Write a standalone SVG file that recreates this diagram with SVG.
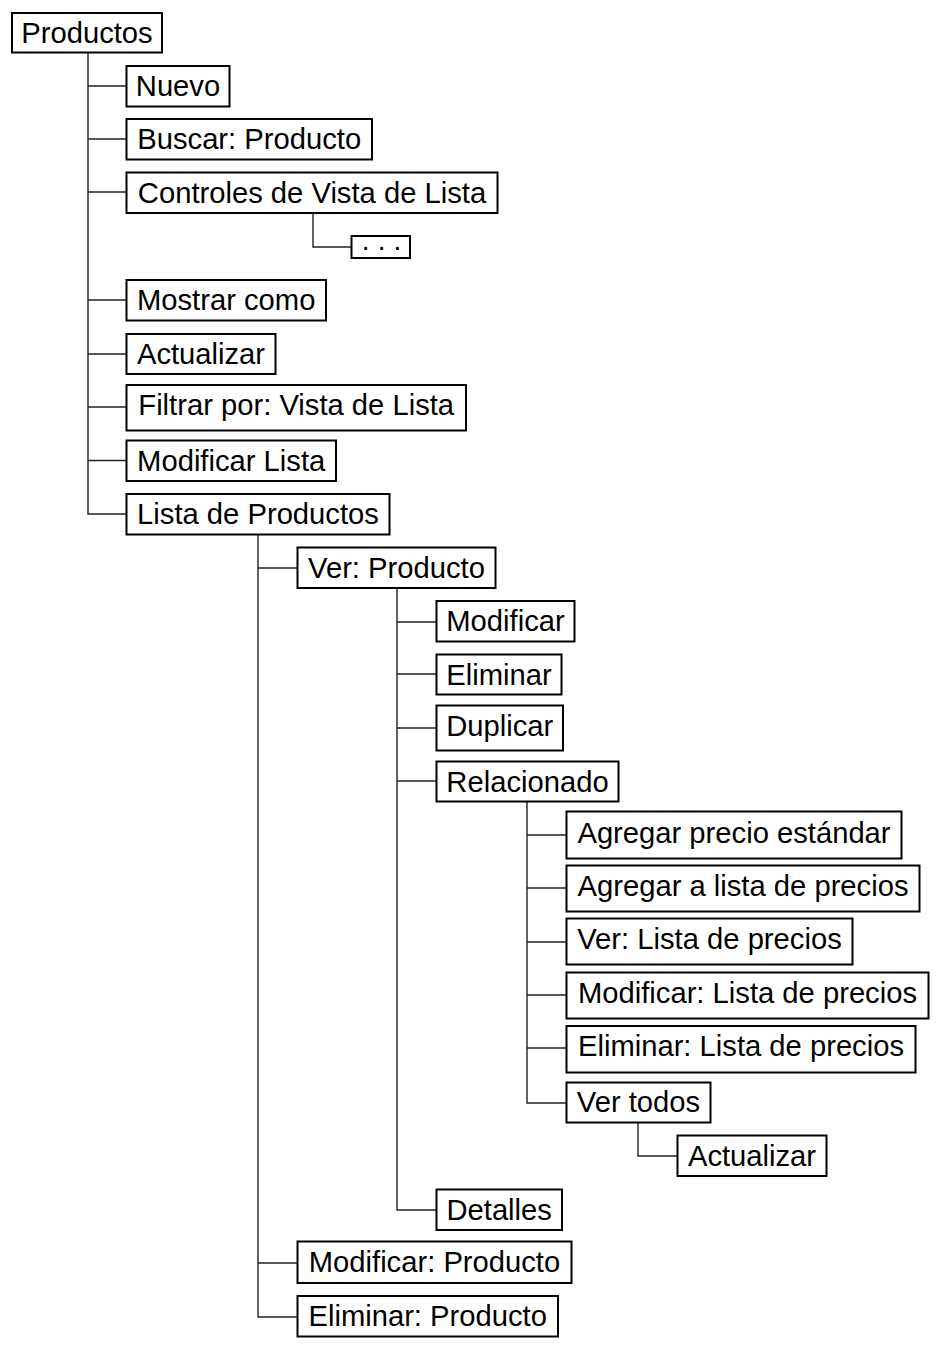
<svg xmlns="http://www.w3.org/2000/svg" width="943" height="1352" viewBox="0 0 943 1352">
<style>
.box{fill:#fff;stroke:#000;stroke-width:2}
.lbl{font-family:"Liberation Sans",Arial,Helvetica,sans-serif;font-size:29.2px;fill:#000;text-anchor:middle}
.con{fill:none;stroke:#222;stroke-width:1.4}
</style>
<rect x="0" y="0" width="943" height="1352" fill="#fff"/>
<g id="connectors">
<path class="con" d="M88,52 V514 H126 M88,86 H126 M88,139 H126 M88,192 H126 M88,300 H126 M88,354 H126 M88,407 H126 M88,460.5 H126"/>
<path class="con" d="M313,213 V247 H351"/>
<path class="con" d="M258,534 V1317 H297 M258,568 H297 M258,1263 H297"/>
<path class="con" d="M397,588 V1210 H436 M397,622 H436 M397,674 H436 M397,728 H436 M397,781 H436"/>
<path class="con" d="M527,801 V1103 H566 M527,835 H566 M527,888 H566 M527,942 H566 M527,995 H566 M527,1048 H566"/>
<path class="con" d="M638,1123 V1156 H677"/>
</g>
<g id="n-productos"><rect class="box" x="12" y="13" width="150" height="39.5"/><text class="lbl" x="87" y="42.8">Productos</text></g>
<g id="n-nuevo"><rect class="box" x="126.5" y="66" width="103" height="40.5"/><text class="lbl" x="178" y="96.3">Nuevo</text></g>
<g id="n-buscar"><rect class="box" x="126.5" y="119" width="245.5" height="40.5"/><text class="lbl" x="249.2" y="149.3">Buscar: Producto</text></g>
<g id="n-controles"><rect class="box" x="126.5" y="172.5" width="371" height="40.5"/><text class="lbl" x="312" y="202.8">Controles de Vista de Lista</text></g>
<g id="n-dots"><rect class="box" x="351.5" y="236" width="58.5" height="22"/><text class="lbl" x="381" y="255.5" style="letter-spacing:-1px">· · ·</text></g>
<g id="n-mostrar"><rect class="box" x="126.5" y="280" width="199.5" height="40.5"/><text class="lbl" x="226.2" y="310.3">Mostrar como</text></g>
<g id="n-actualizar1"><rect class="box" x="126.5" y="334" width="149" height="40"/><text class="lbl" x="201" y="364.3">Actualizar</text></g>
<g id="n-filtrar"><rect class="box" x="126.5" y="385" width="339.5" height="45.5"/><text class="lbl" x="296.2" y="415">Filtrar por: Vista de Lista</text></g>
<g id="n-modlista"><rect class="box" x="126.5" y="440.5" width="209.5" height="40.5"/><text class="lbl" x="231.2" y="470.8">Modificar Lista</text></g>
<g id="n-listaprod"><rect class="box" x="126.5" y="494" width="263" height="40.5"/><text class="lbl" x="258" y="524.3">Lista de Productos</text></g>
<g id="n-verprod"><rect class="box" x="297.5" y="547.5" width="198" height="40.5"/><text class="lbl" x="396.5" y="577.8">Ver: Producto</text></g>
<g id="n-modificar"><rect class="box" x="436.5" y="601" width="138" height="40.5"/><text class="lbl" x="505.5" y="631.2">Modificar</text></g>
<g id="n-eliminar"><rect class="box" x="436.5" y="654.5" width="125" height="40"/><text class="lbl" x="499" y="684.7">Eliminar</text></g>
<g id="n-duplicar"><rect class="box" x="436.5" y="705.5" width="126.5" height="45"/><text class="lbl" x="499.7" y="735.8">Duplicar</text></g>
<g id="n-relacionado"><rect class="box" x="436.5" y="761.5" width="182" height="40"/><text class="lbl" x="527.5" y="791.8">Relacionado</text></g>
<g id="n-agrprecio"><rect class="box" x="566.5" y="811.5" width="335" height="47"/><text class="lbl" x="734" y="842.5">Agregar precio estándar</text></g>
<g id="n-agrlista"><rect class="box" x="566.5" y="865.5" width="353" height="46"/><text class="lbl" x="743" y="895.5">Agregar a lista de precios</text></g>
<g id="n-verlista"><rect class="box" x="566.5" y="918.5" width="286" height="46"/><text class="lbl" x="709.5" y="948.8">Ver: Lista de precios</text></g>
<g id="n-modlistap"><rect class="box" x="566.5" y="972.5" width="362" height="46"/><text class="lbl" x="747.5" y="1002.8">Modificar: Lista de precios</text></g>
<g id="n-elimlistap"><rect class="box" x="566.5" y="1026" width="349" height="46.5"/><text class="lbl" x="741" y="1056.3">Eliminar: Lista de precios</text></g>
<g id="n-vertodos"><rect class="box" x="566.5" y="1082.5" width="144" height="40"/><text class="lbl" x="638.5" y="1112">Ver todos</text></g>
<g id="n-actualizar2"><rect class="box" x="677.5" y="1135.5" width="149" height="40.5"/><text class="lbl" x="752" y="1165.8">Actualizar</text></g>
<g id="n-detalles"><rect class="box" x="436.5" y="1189.5" width="125.5" height="40.5"/><text class="lbl" x="499.2" y="1219.8">Detalles</text></g>
<g id="n-modprod"><rect class="box" x="297.5" y="1241.5" width="274" height="41.5"/><text class="lbl" x="434.5" y="1272.3">Modificar: Producto</text></g>
<g id="n-elimprod"><rect class="box" x="297.5" y="1296" width="260.5" height="40.5"/><text class="lbl" x="427.7" y="1326.3">Eliminar: Producto</text></g>
</svg>
